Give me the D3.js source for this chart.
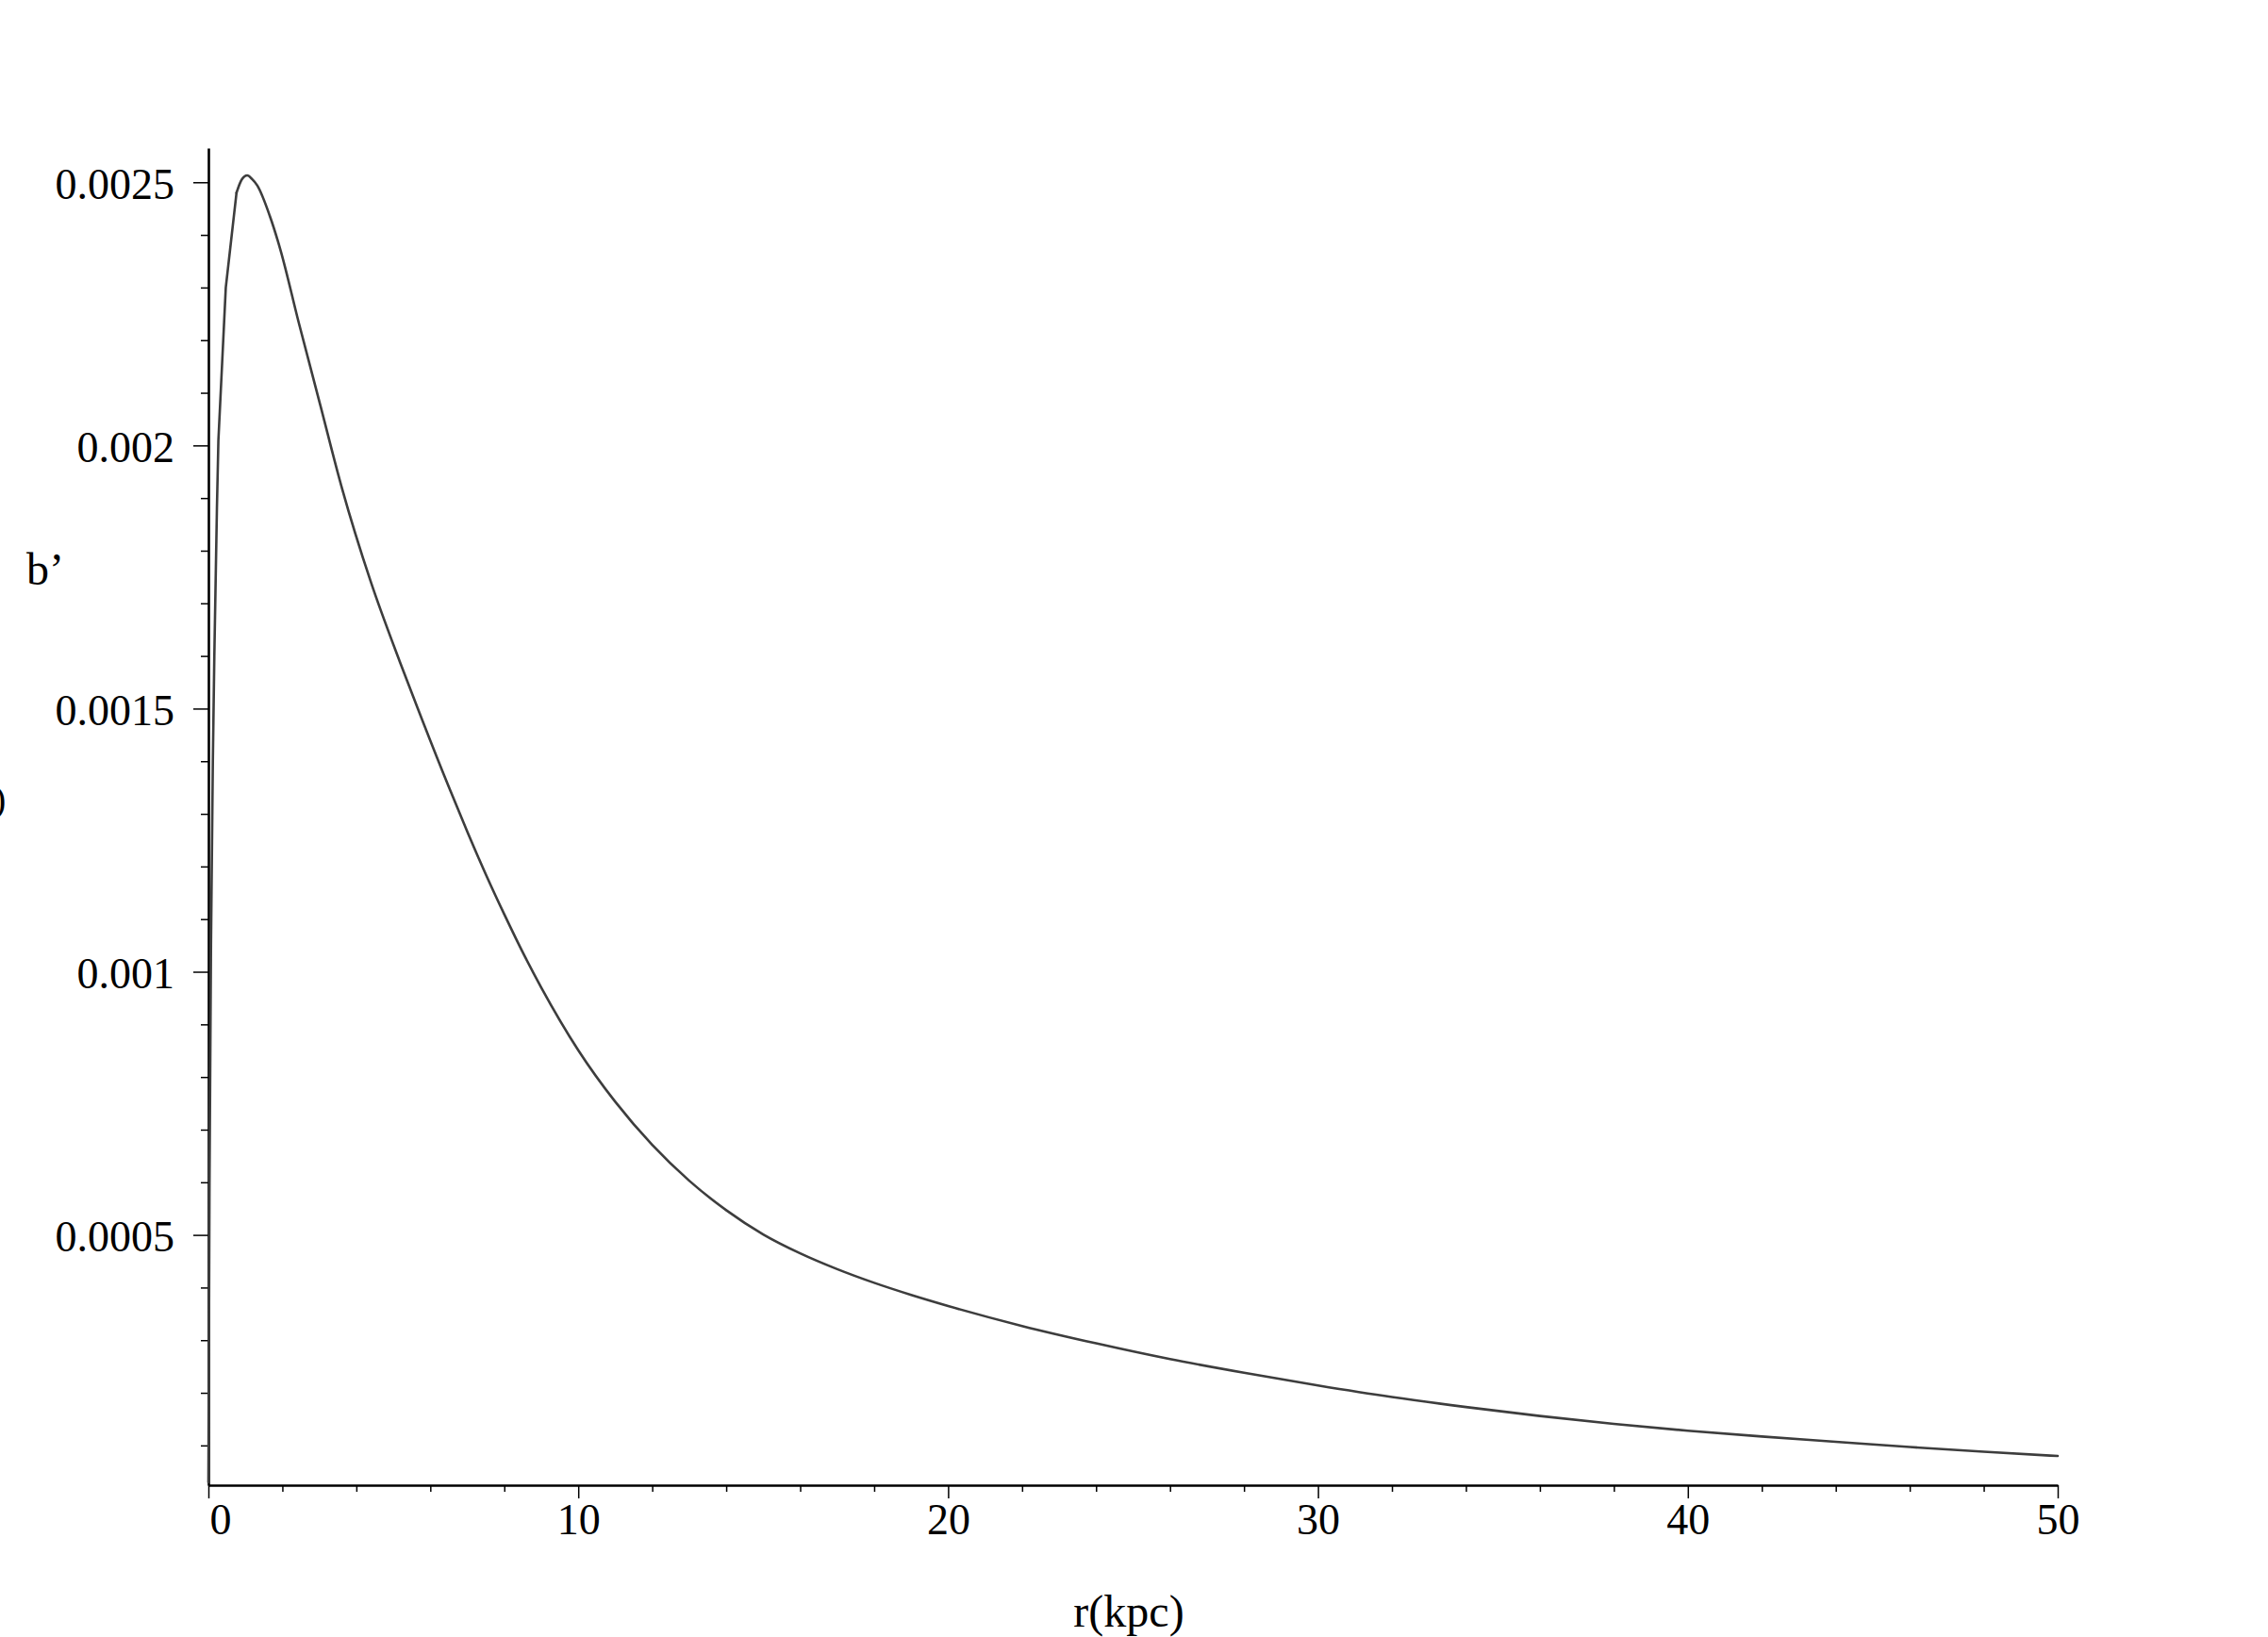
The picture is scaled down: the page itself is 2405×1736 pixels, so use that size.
<!DOCTYPE html>
<html>
<head>
<meta charset="utf-8">
<script src="https://cdn.jsdelivr.net/npm/d3@7"></script>
<style>
  html, body { margin: 0; padding: 0; background: #fff; }
  svg { display: block; }
</style>
</head>
<body>
<div id="chart"></div>
<script>
// r (kpc) and b'
// rising part (Maple sampled it coarsely, so it keeps its corners)
const rRise = [0, 0.03, 0.07, 0.12, 0.16, 0.23, 0.27, 0.47, 0.76];
const bRise = [0.00003, 0.0006, 0.00105, 0.0014, 0.0016, 0.00188, 0.00201, 0.0023, 0.00248];
// from the last corner on the curve is smooth
const rFall = [0.76, 0.9, 1.05, 1.18, 1.32, 1.66, 1.95, 2.44, 3.02, 3.61, 4.39, 5.17, 5.65,
  6.5, 7, 7.5, 8, 8.57, 9, 10, 11, 12, 13, 14, 15, 16, 17, 18, 19, 20, 22, 24, 26, 28, 30,
  32, 34, 36, 38, 40, 42, 44, 46, 48, 50];
const bFall = [0.00248, 0.002505, 0.002513, 0.002506, 0.002494, 0.002436, 0.002371, 0.002234, 0.002078, 0.001919, 0.001741, 0.00159, 0.001502,
  0.001351, 0.001266, 0.001185, 0.001109, 0.001027, 0.00097, 0.000851, 0.000753, 0.000671, 0.000603, 0.000547, 0.000501, 0.000465, 0.000435, 0.000409, 0.000386, 0.000365, 0.000327, 0.000294, 0.000264, 0.000238, 0.000214,
  0.000192, 0.000173, 0.000156, 0.000141, 0.000128, 0.000117, 0.000107, 0.000097, 0.000088, 0.00008];

const xMajor = [0, 10, 20, 30, 40, 50];
const xMinor = [2, 4, 6, 8, 12, 14, 16, 18, 22, 24, 26, 28, 32, 34, 36, 38, 42, 44, 46, 48];
const yMajor = [0.0005, 0.001, 0.0015, 0.002, 0.0025];
const yMinor = d3.range(1, 26).map(i => i / 10000).filter(v => !yMajor.some(m => Math.abs(m - v) < 1e-9));
const yLabels = ["0.0005", "0.001", "0.0015", "0.002", "0.0025"];

const width = 2405, height = 1736;
const font = "'Liberation Serif', 'Times New Roman', serif";

const svg = d3.select("#chart")
  .append("svg")
  .attr("width", width)
  .attr("height", height)
  .attr("viewBox", `0 0 ${width} ${height}`);

svg.append("rect").attr("width", width).attr("height", height).attr("fill", "#fff");

const xScale = d3.scaleLinear().domain([0, 50]).range([221, 2182]);
const yScale = d3.scaleLinear().domain([0.0000245, 0.002565]).range([1575, 157]);

//minor ticks first, then major axes on top
svg.append("g")
  .attr("transform", `translate(0,${yScale.range()[0]})`)
  .call(d3.axisBottom(xScale).tickValues(xMinor).tickSize(7).tickSizeOuter(0).tickFormat(""))
  .call(g => g.select(".domain").remove())
  .call(g => g.selectAll("line").attr("stroke", "#000").attr("stroke-width", 1.5));

svg.append("g")
  .attr("transform", `translate(${xScale.range()[0]},0)`)
  .call(d3.axisLeft(yScale).tickValues(yMinor).tickSize(8).tickSizeOuter(0).tickFormat(""))
  .call(g => g.select(".domain").remove())
  .call(g => g.selectAll("line").attr("stroke", "#000").attr("stroke-width", 1.5));

const xAxis = svg.append("g")
  .attr("transform", `translate(0,${yScale.range()[0]})`)
  .call(d3.axisBottom(xScale).tickValues(xMajor).tickSize(14).tickSizeOuter(0).tickPadding(5).tickFormat(d3.format("d")));

const yAxis = svg.append("g")
  .attr("transform", `translate(${xScale.range()[0]},0)`)
  .call(d3.axisLeft(yScale).tickValues(yMajor).tickSize(16).tickSizeOuter(0).tickPadding(20)
    .tickFormat((d, i) => yLabels[i]));

[xAxis, yAxis].forEach(g => {
  g.select(".domain").attr("stroke", "#000").attr("stroke-width", 2.6);
  g.selectAll(".tick line").attr("stroke", "#000").attr("stroke-width", 1.5);
  g.selectAll("text")
    .attr("fill", "#000")
    .style("font-family", font)
    .style("font-size", "46px");
});
yAxis.selectAll("text").attr("dy", "0.37em");
// Maple nudges the 0 label off the vertical axis
xAxis.selectAll(".tick").filter(d => d === 0).select("text").attr("text-anchor", "start").attr("x", 1);

//curve: corners on the rise, smooth after
const riseLine = d3.line()
  .x((d, i) => xScale(rRise[i]))
  .y(d => yScale(d))
  .curve(d3.curveLinear);
const fallLine = d3.line()
  .x((d, i) => xScale(rFall[i]))
  .y(d => yScale(d))
  .curve(d3.curveMonotoneX);

[[bRise, riseLine], [bFall, fallLine]].forEach(([vals, gen]) => {
  svg.append("path")
    .datum(vals)
    .attr("d", gen)
    .attr("fill", "none")
    .attr("stroke", "#3d3d3d")
    .attr("stroke-width", 2.6)
    .attr("stroke-linejoin", "round")
    .attr("stroke-linecap", "round");
});

//axis labels
svg.append("text")
  .attr("x", 1197)
  .attr("y", 1725)
  .attr("text-anchor", "middle")
  .style("font-family", font)
  .style("font-size", "48px")
  .text("r(kpc)");

svg.append("text")
  .attr("x", 28)
  .attr("y", 620)
  .style("font-family", font)
  .style("font-size", "48px")
  .text("b’");

// glyph clipped at the left edge, as in the original
svg.append("text")
  .attr("x", -7)
  .attr("y", 861)
  .style("font-family", font)
  .style("font-size", "40px")
  .text(")");
</script>
</body>
</html>
